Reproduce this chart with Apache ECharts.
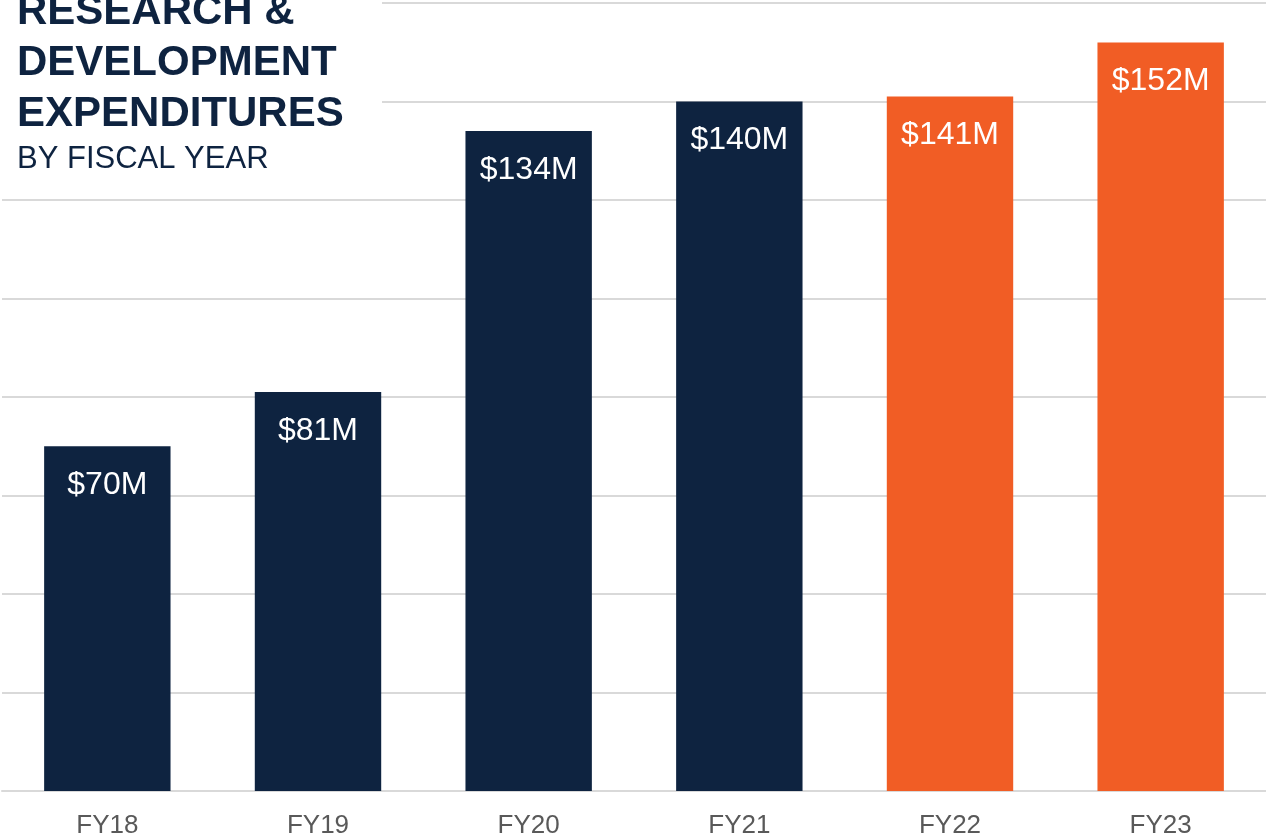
<!DOCTYPE html>
<html>
<head>
<meta charset="utf-8">
<script src="https://cdn.jsdelivr.net/npm/echarts@6/dist/echarts.min.js"></script>
<style>
  html, body { margin: 0; padding: 0; background: #fff; }
  #chart { width: 1266px; height: 839px; }
</style>
</head>
<body>
<div id="chart"></div>
<script>
// fiscal years and R&D spend in $M
const years = ['FY18', 'FY19', 'FY20', 'FY21', 'FY22', 'FY23']
const spend = [70, 81, 134, 140, 141, 152]
const orangeYears = ['FY22', 'FY23']

const NAVY = '#0E2340'
const ORANGE = '#F15D25'

const chart = echarts.init(document.getElementById('chart'))

chart.setOption({
    backgroundColor: '#fff',
    animation: false,
    title: {
        text: 'RESEARCH &\nDEVELOPMENT\nEXPENDITURES',
        subtext: 'BY FISCAL YEAR',
        left: 12,
        top: -18,
        z: 20,
        itemGap: 4,
        textStyle: {
            fontFamily: 'Liberation Sans',
            fontWeight: 'bold',
            fontSize: 42,
            lineHeight: 51,
            color: NAVY
        },
        subtextStyle: {
            fontFamily: 'Liberation Sans',
            fontSize: 31,
            color: NAVY
        }
    },
    // white box behind the title so gridlines don't run through it
    graphic: [{
        type: 'rect',
        z: 10,
        shape: { x: 0, y: 0, width: 382, height: 185 },
        style: { fill: '#fff' }
    }],
    grid: {
        left: 2,
        right: 0,
        top: 3,
        bottom: 47,
        containLabel: false
    },
    xAxis: {
        type: 'category',
        data: years,
        axisLine: { lineStyle: { color: '#d9d9d9', width: 2 } },
        axisTick: { show: false },
        axisLabel: {
            fontFamily: 'Liberation Sans',
            fontSize: 26,
            color: '#595959',
            margin: 22
        }
    },
    yAxis: {
        type: 'value',
        min: 0,
        max: 160,
        interval: 20,
        axisLabel: { show: false },
        axisLine: { show: false },
        axisTick: { show: false },
        splitLine: { lineStyle: { color: '#d9d9d9', width: 2 } }
    },
    series: [{
        type: 'bar',
        data: spend,
        barWidth: '60%',
        itemStyle: {
            color: (p) => orangeYears.includes(p.name) ? ORANGE : NAVY
        },
        label: {
            show: true,
            position: 'insideTop',
            distance: 23,
            formatter: (p) => '$' + p.value + 'M',
            fontFamily: 'Liberation Sans',
            fontSize: 32,
            color: '#fff'
        }
    }]
})
</script>
</body>
</html>
